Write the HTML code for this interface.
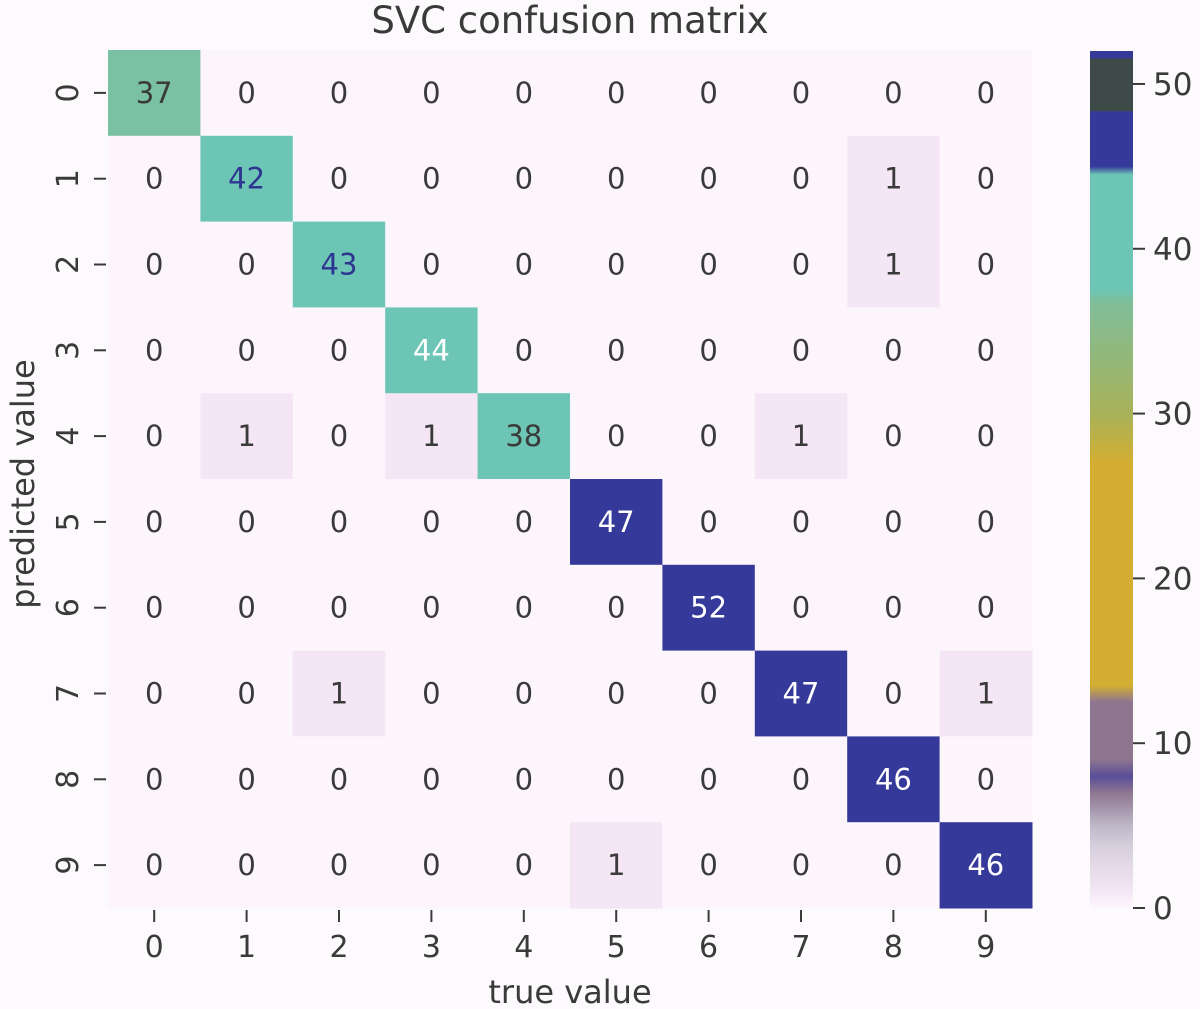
<!DOCTYPE html>
<html><head><meta charset="utf-8"><style>
html,body{margin:0;padding:0;background:#fdfafd;}
svg{display:block;font-family:"DejaVu Sans","Liberation Sans",sans-serif;}
</style></head><body>
<svg id="chart" width="1200" height="1009" viewBox="0 0 1200 1009" xmlns="http://www.w3.org/2000/svg">
<rect x="0" y="0" width="1200" height="1009" fill="#fdfafd"/>
<text x="570" y="33" text-anchor="middle" font-size="37" fill="#3a3a3a">SVC confusion matrix</text>
<g id="cells"></g>
<g id="axes"></g>
<defs><linearGradient id="cbg" x1="0" y1="1" x2="0" y2="0"></linearGradient></defs>
<g id="cbar"></g>
<text x="0" y="0" transform="translate(34,484) rotate(-90)" text-anchor="middle" font-size="32" fill="#3a3a3a">predicted value</text>
<text x="570" y="1003" text-anchor="middle" font-size="32" fill="#3a3a3a">true value</text>
</svg>
<script>
const categories = ["0","1","2","3","4","5","6","7","8","9"];
const matrix = [
 [37,0,0,0,0,0,0,0,0,0],
 [0,42,0,0,0,0,0,0,1,0],
 [0,0,43,0,0,0,0,0,1,0],
 [0,0,0,44,0,0,0,0,0,0],
 [0,1,0,1,38,0,0,1,0,0],
 [0,0,0,0,0,47,0,0,0,0],
 [0,0,0,0,0,0,52,0,0,0],
 [0,0,1,0,0,0,0,47,0,1],
 [0,0,0,0,0,0,0,0,46,0],
 [0,0,0,0,0,1,0,0,0,46]
];
const cbarTicks = [0,10,20,30,40,50];
const vmin = 0, vmax = 52;

const NS="http://www.w3.org/2000/svg";
const X0=108, X1=1032, Y0=50, Y1=908;
const cw=(X1-X0)/categories.length, ch=(Y1-Y0)/categories.length;
const xPos=i=>X0+i*cw, yPos=i=>Y0+i*ch;
const CB={x:1090,w:43,top:51,bot:908};
const cbY=v=>CB.bot-(v-vmin)/(vmax-vmin)*(CB.bot-CB.top);

const stops=[[0,"#fcf6fc"],[1,"#f4e6f4"],[3.6,"#d8d0de"],[5,"#bdb8c8"],[7,"#8e7590"],[8,"#5a4d98"],[9,"#8e7590"],[12.5,"#8e7590"],[13.5,"#d4ae32"],[27,"#d4ae32"],[30,"#a8b25a"],[36.8,"#7fbe9a"],[37.5,"#6cc5b5"],[44.5,"#6cc5b5"],[45,"#35399a"],[48.3,"#35399a"],[48.4,"#3d4a48"],[51.5,"#3d4a48"],[51.6,"#35399a"],[52,"#35399a"]];
function hex(c){return [1,3,5].map(i=>parseInt(c.substr(i,2),16));}
function cmap(v){
  for(let i=1;i<stops.length;i++){ if(v<=stops[i][0]){const [a,ca]=stops[i-1],[b,cb]=stops[i];const t=b===a?0:(v-a)/(b-a);const A=hex(ca),B=hex(cb);return "rgb("+A.map((x,k)=>Math.round(x+(B[k]-x)*t)).join(",")+")";}}
  return stops[stops.length-1][1];
}
function textColor(v){ if(v>=44) return "#ffffff"; if(v>=40&&v<44) return "#2e3590"; return "#3a3a3a"; }

const cells=document.getElementById('cells');
matrix.forEach((row,r)=>row.forEach((v,c)=>{
  const rect=document.createElementNS(NS,'rect');
  
  
  rect.setAttribute('x',xPos(c));rect.setAttribute('y',yPos(r));
  rect.setAttribute('width',cw+0.5);rect.setAttribute('height',ch+0.5);
  rect.setAttribute('fill',cmap(v));
  cells.appendChild(rect);
  const t=document.createElementNS(NS,'text');
  
  
  t.setAttribute('x',xPos(c)+cw/2);t.setAttribute('y',yPos(r)+ch/2+10);
  t.setAttribute('text-anchor','middle');t.setAttribute('font-size','29');
  t.setAttribute('fill',textColor(v));
  t.textContent=v;
  cells.appendChild(t);
}));

const axes=document.getElementById('axes');
categories.forEach((lab,i)=>{
  const cx=xPos(i)+cw/2;
  const tk=document.createElementNS(NS,'line');
  
  
  tk.setAttribute('x1',cx);tk.setAttribute('x2',cx);tk.setAttribute('y1',910);tk.setAttribute('y2',922);
  tk.setAttribute('stroke','#3a3a3a');tk.setAttribute('stroke-width','2');
  axes.appendChild(tk);
  const tl=document.createElementNS(NS,'text');
  
  
  tl.setAttribute('x',cx);tl.setAttribute('y',957);tl.setAttribute('text-anchor','middle');
  tl.setAttribute('font-size','30');tl.setAttribute('fill','#3a3a3a');tl.textContent=lab;
  axes.appendChild(tl);
  const cy=yPos(i)+ch/2;
  const ty=document.createElementNS(NS,'line');
  
  
  ty.setAttribute('x1',94);ty.setAttribute('x2',106);ty.setAttribute('y1',cy);ty.setAttribute('y2',cy);
  ty.setAttribute('stroke','#3a3a3a');ty.setAttribute('stroke-width','2');
  axes.appendChild(ty);
  const yl=document.createElementNS(NS,'text');
  
  
  yl.setAttribute('transform','translate(78,'+cy+') rotate(-90)');
  yl.setAttribute('text-anchor','middle');yl.setAttribute('font-size','30');yl.setAttribute('fill','#3a3a3a');
  yl.textContent=lab;
  axes.appendChild(yl);
});

const grad=document.getElementById('cbg');
stops.forEach(s=>{const st=document.createElementNS(NS,'stop');st.setAttribute('offset',(s[0]-vmin)/(vmax-vmin));st.setAttribute('stop-color',s[1]);grad.appendChild(st);});
const cb=document.getElementById('cbar');
const cbr=document.createElementNS(NS,'rect');


cbr.setAttribute('x',CB.x);cbr.setAttribute('y',CB.top);cbr.setAttribute('width',CB.w);cbr.setAttribute('height',CB.bot-CB.top);
cbr.setAttribute('fill','url(#cbg)');
cb.appendChild(cbr);
cbarTicks.forEach(v=>{
  const y=cbY(v);
  const l=document.createElementNS(NS,'line');
  
  
  l.setAttribute('x1',CB.x+CB.w);l.setAttribute('x2',CB.x+CB.w+12);l.setAttribute('y1',y);l.setAttribute('y2',y);
  l.setAttribute('stroke','#3a3a3a');l.setAttribute('stroke-width','2');
  cb.appendChild(l);
  const t=document.createElementNS(NS,'text');
  
  
  t.setAttribute('x',CB.x+CB.w+20);t.setAttribute('y',y+11);t.setAttribute('font-size','31');t.setAttribute('fill','#3a3a3a');
  t.textContent=v;
  cb.appendChild(t);
});
</script>
</body></html>
